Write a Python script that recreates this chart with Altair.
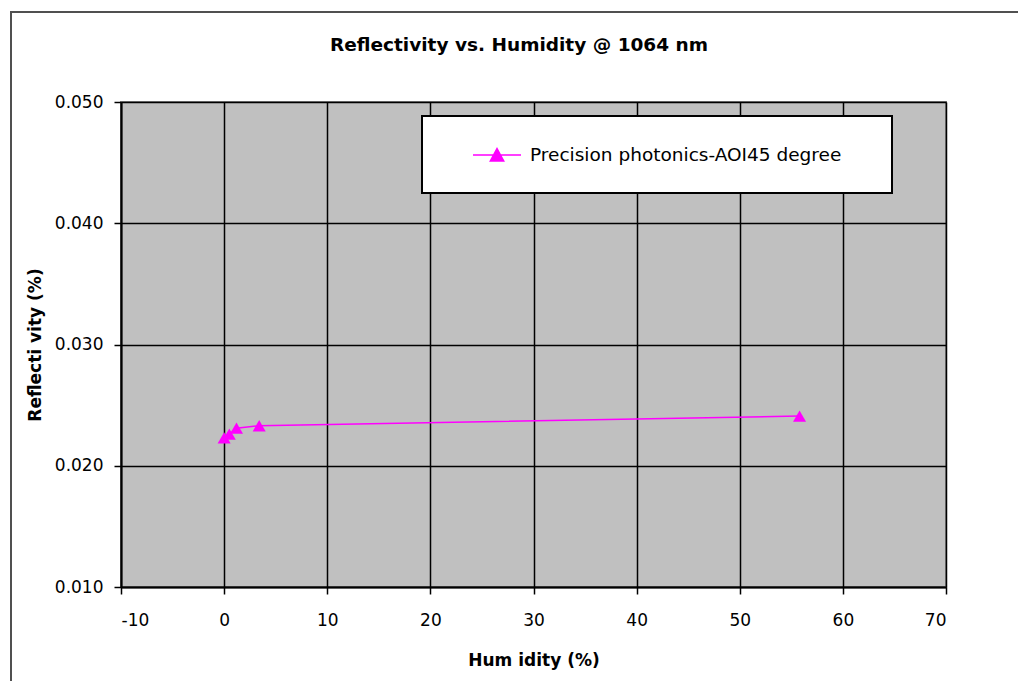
import altair as alt
import pandas as pd

humidity = [0.0, 0.5, 1.2, 3.4, 55.8]
reflectivity = [0.0223, 0.0226, 0.0231, 0.0233, 0.0241]
series = "Precision  photonics-AOI45 degree"
title_text = "Reflectivity vs. Humidity @ 1064 nm"
x_ticks = [-10, 0, 10, 20, 30, 40, 50, 60, 70]
y_ticks = [0.010, 0.020, 0.030, 0.040, 0.050]

df = pd.DataFrame({"Humidity": humidity, "Reflectivity": reflectivity, "Series": [series] * len(humidity)})

FONT = "DejaVu Sans"
MAG = "#FF00FF"

xscale = alt.Scale(domain=[-10, 70], nice=False, zero=False)
yscale = alt.Scale(domain=[0.010, 0.050], nice=False, zero=False)

xaxis = alt.Axis(values=x_ticks, title="Hum idity (%)", grid=True, gridColor="#000000", gridWidth=1.5,
                 labelExpr="datum.value < 0 ? '-' + abs(datum.value) : '' + datum.value",
                 domainColor="#000000", domainWidth=2, tickColor="#000000", tickWidth=1.5, tickSize=7,
                 labelFont=FONT, labelFontSize=17, labelColor="#000000", labelPadding=18,
                 titleFont=FONT, titleFontSize=17, titleFontWeight="bold", titleColor="#000000", titlePadding=24)
yaxis = alt.Axis(values=y_ticks, format=".3f", title="Reflecti vity (%)", grid=True, gridColor="#000000", gridWidth=1.5,
                 domainColor="#000000", domainWidth=2, tickColor="#000000", tickWidth=1.5, tickSize=7,
                 labelFont=FONT, labelFontSize=17, labelColor="#000000", labelPadding=11,
                 titleFont=FONT, titleFontSize=17, titleFontWeight="bold", titleColor="#000000", titlePadding=10)

color = alt.Color("Series:N", scale=alt.Scale(domain=[series], range=[MAG]),
                  legend=alt.Legend(title=None, orient="none", legendX=351, legendY=28,
                                    padding=0, labelFont=FONT, labelFontSize=18.5, labelColor="#000000",
                                    labelOffset=8, labelLimit=0, symbolSize=2304,
                                    symbolType="M-1,0H1M-0.28,0.25L0,-0.27L0.28,0.25Z",
                                    symbolStrokeWidth=1.5, symbolFillColor=MAG, symbolStrokeColor=MAG))

one = pd.DataFrame({"a": [0]})

frame = alt.Chart(one).mark_rect(fill=None, stroke="#505050", strokeWidth=2).encode(
    x=alt.value(-110), x2=alt.value(1000), y=alt.value(-90), y2=alt.value(700))

legend_box = alt.Chart(one).mark_rect(fill="#FFFFFF", stroke="#000000", strokeWidth=2).encode(
    x=alt.value(301), x2=alt.value(771), y=alt.value(14), y2=alt.value(91))

title = alt.Chart(one).mark_text(text=title_text, font=FONT, fontSize=18.5, fontWeight="bold",
                                 color="#000000", align="center", baseline="middle").encode(
    x=alt.value(398), y=alt.value(-57))

base = alt.Chart(df).encode(
    x=alt.X("Humidity:Q", scale=xscale, axis=xaxis),
    y=alt.Y("Reflectivity:Q", scale=yscale, axis=yaxis),
    color=color,
)
line = base.mark_line(strokeWidth=1.5)
pts = base.mark_point(shape="triangle-up", filled=True, size=170, opacity=1)

chart = alt.layer(frame, legend_box, title, line, pts).properties(
    width=825, height=485,
    autosize=alt.AutoSizeParams(type="none"),
    padding={"left": 113, "top": 94, "right": 72, "bottom": 94},
).configure_view(fill="#C0C0C0", stroke="#808080", strokeWidth=2)

chart.save("out.html", embed_options={"renderer": "svg", "actions": False})
